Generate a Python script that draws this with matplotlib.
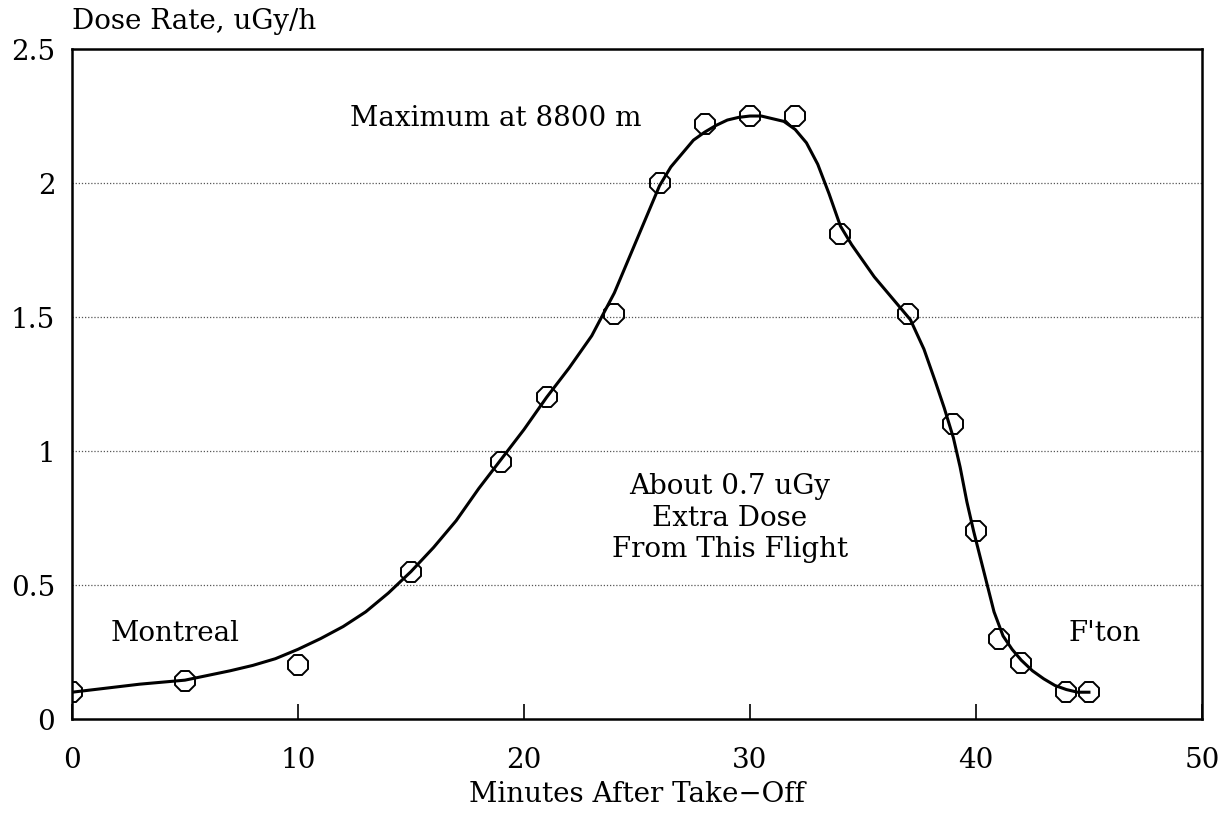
import numpy as np
import matplotlib.pyplot as plt

# measured points (minutes, uGy/h)
t_meas = [0, 5, 10, 15, 19, 21, 24, 26, 28, 30, 32, 34, 37, 39, 40, 41, 42, 44, 45]
dose_meas = [0.10, 0.14, 0.20, 0.55, 0.96, 1.20, 1.51, 2.00, 2.22, 2.25, 2.25,
             1.81, 1.51, 1.10, 0.70, 0.30, 0.21, 0.10, 0.10]

# hand-drawn smooth curve
t_curve = [0, 1, 2, 3, 5, 7, 8, 9, 10, 11, 12, 13, 14, 15, 16, 17, 18, 19, 20,
           21, 22, 23, 24, 25, 26, 26.5, 27, 27.5, 28, 28.5, 29, 29.5, 30, 30.5,
           31, 31.5, 32, 32.5, 33, 33.5, 34, 34.5, 35, 35.5, 36.3, 37.1, 37.7,
           38.2, 38.6, 39, 39.3, 39.6, 39.9, 40.2, 40.5, 40.8, 41.2, 41.6, 42,
           42.5, 43, 43.5, 44, 44.5, 45]
dose_curve = [0.10, 0.11, 0.12, 0.13, 0.145, 0.18, 0.20, 0.225, 0.26, 0.30, 0.345,
              0.40, 0.47, 0.55, 0.64, 0.74, 0.86, 0.97, 1.08, 1.20, 1.31, 1.43,
              1.59, 1.79, 1.99, 2.06, 2.11, 2.16, 2.19, 2.215, 2.235, 2.245, 2.25,
              2.25, 2.24, 2.23, 2.20, 2.15, 2.07, 1.96, 1.84, 1.77, 1.71, 1.65,
              1.57, 1.49, 1.38, 1.26, 1.16, 1.05, 0.94, 0.81, 0.70, 0.60, 0.50,
              0.40, 0.31, 0.26, 0.22, 0.18, 0.15, 0.125, 0.11, 0.10, 0.10]

x_ticks = [0, 10, 20, 30, 40, 50]
y_ticks = [0, 0.5, 1, 1.5, 2, 2.5]
y_tick_labels = ['0', '0.5', '1', '1.5', '2', '2.5']

plt.rcParams['font.family'] = 'DejaVu Serif'
FS = 20

fig = plt.figure(figsize=(12.32, 8.13), dpi=100)
ax = fig.add_axes([0.0584, 0.1156, 0.9172, 0.8241])

for yv in y_ticks[1:-1]:
    ax.axhline(yv, color='#555555', lw=0.9, ls=(0, (1, 1.5)), zorder=1)

ax.plot(t_curve, dose_curve, color='black', lw=2.2, zorder=3)
ax.plot(t_meas, dose_meas, ls='none', marker='8', ms=15, mfc='none',
        mec='black', mew=1.4, zorder=4)

ax.set_xlim(0, 50)
ax.set_ylim(0, 2.5)
ax.set_xticks(x_ticks)
ax.set_yticks(y_ticks)
ax.set_yticklabels(y_tick_labels)
ax.tick_params(axis='x', direction='in', length=11, width=1.2, pad=20,
               labelsize=FS)
ax.tick_params(axis='y', length=0, pad=12, labelsize=FS)
for s in ax.spines.values():
    s.set_linewidth(1.8)

ax.set_xlabel('Minutes After Take\u2212Off', fontsize=FS, labelpad=5)
fig.text(0.0584, 0.973, 'Dose Rate, uGy/h', fontsize=FS, ha='left', va='center')

ax.text(12.3, 2.24, 'Maximum at 8800 m', fontsize=FS, ha='left', va='center')
ax.text(29.1, 0.75, 'About 0.7 uGy\nExtra Dose\nFrom This Flight', fontsize=FS,
        ha='center', va='center', linespacing=1.2)
ax.text(1.7, 0.32, 'Montreal', fontsize=FS, ha='left', va='center')
ax.text(44.1, 0.32, "F'ton", fontsize=FS, ha='left', va='center')

fig.savefig('out.png', dpi=100)
